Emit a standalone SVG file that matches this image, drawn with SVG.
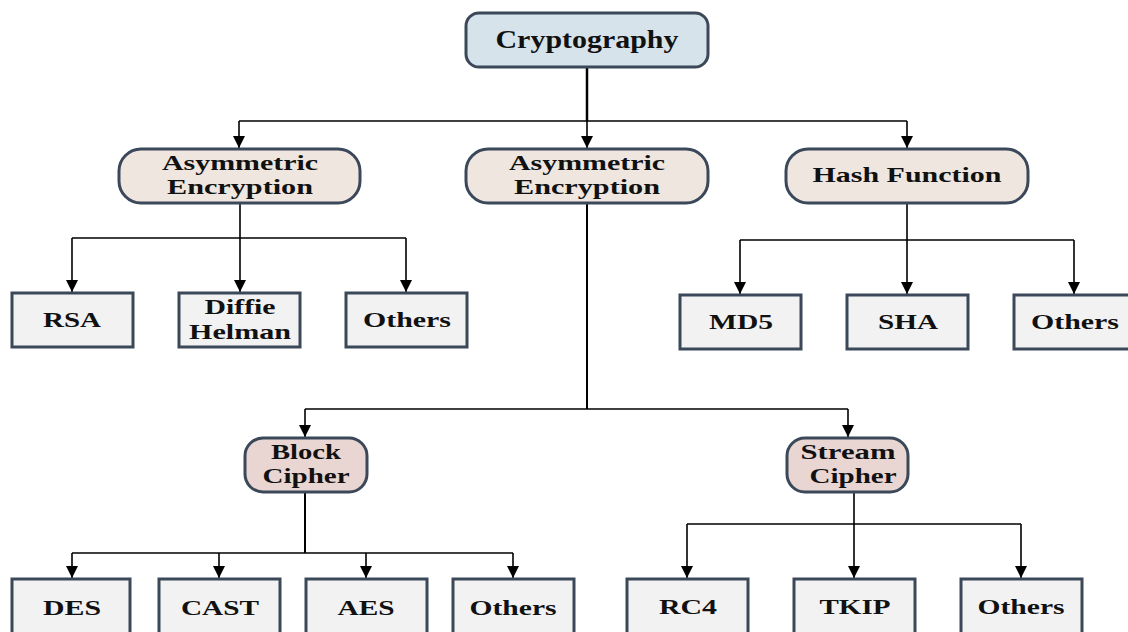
<svg xmlns="http://www.w3.org/2000/svg" width="1128" height="632" viewBox="0 0 1128 632">
<style>
.t{font-family:"Liberation Serif","Times New Roman",serif;font-weight:bold;font-size:22px;fill:#111;text-anchor:middle}
.root{fill:#d7e3ea;stroke:#3b4859;stroke-width:3}
.l2{fill:#eee6df;stroke:#3b4859;stroke-width:3}
.l3{fill:#e9d5d1;stroke:#3b4859;stroke-width:3}
.leaf{fill:#f2f2f2;stroke:#3b4859;stroke-width:3}
.c{fill:none;stroke:#000;stroke-width:1.6}
.a{marker-end:url(#arr)}
</style>
<defs>
<marker id="arr" markerWidth="12" markerHeight="12" refX="10" refY="5" orient="auto" markerUnits="userSpaceOnUse" viewBox="0 0 10 10">
<path d="M0,0 L10,5 L0,10 z" fill="#000"/>
</marker>
</defs>
<rect width="1128" height="632" fill="#fff"/>
<g id="connectors">
<path class="c" d="M587,67 V121" style="stroke-width:2.5"/>
<path class="c" d="M239,121 H907"/>
<path class="c a" d="M239,121 V148"/>
<path class="c a" d="M587,121 V148"/>
<path class="c a" d="M907,121 V148"/>
<path class="c" d="M240,203 V238 M72,238 H406"/>
<path class="c a" d="M72,238 V292"/>
<path class="c a" d="M240,238 V292"/>
<path class="c a" d="M406,238 V292"/>
<path class="c" d="M907,203 V240 M740,240 H1074"/>
<path class="c a" d="M740,240 V294"/>
<path class="c a" d="M907,240 V294"/>
<path class="c a" d="M1074,240 V294"/>
<path class="c" d="M587,203 V409" style="stroke-width:2"/>
<path class="c" d="M305,409 H848"/>
<path class="c a" d="M305,409 V437"/>
<path class="c a" d="M848,409 V437"/>
<path class="c" d="M305,492 V553" style="stroke-width:2"/>
<path class="c" d="M72,553 H513"/>
<path class="c a" d="M72,553 V578"/>
<path class="c a" d="M219,553 V578"/>
<path class="c a" d="M366,553 V578"/>
<path class="c a" d="M513,553 V578"/>
<path class="c" d="M854,492 V524 M687,524 H1021"/>
<path class="c a" d="M687,524 V578"/>
<path class="c a" d="M854,524 V578"/>
<path class="c a" d="M1021,524 V578"/>
</g>
<g id="cryptography">
<rect class="root" x="466" y="13" width="242" height="54" rx="13"/>
<text class="t" x="587" y="48" style="font-size:25px" textLength="183" lengthAdjust="spacingAndGlyphs">Cryptography</text>
</g>
<g id="asym-left">
<rect class="l2" x="119" y="149" width="241" height="54" rx="22"/>
<text class="t" x="240" y="170" textLength="156" lengthAdjust="spacingAndGlyphs">Asymmetric</text>
<text class="t" x="240" y="194" textLength="146" lengthAdjust="spacingAndGlyphs">Encryption</text>
</g>
<g id="asym-mid">
<rect class="l2" x="466" y="149" width="242" height="54" rx="22"/>
<text class="t" x="587" y="170" textLength="156" lengthAdjust="spacingAndGlyphs">Asymmetric</text>
<text class="t" x="587" y="194" textLength="146" lengthAdjust="spacingAndGlyphs">Encryption</text>
</g>
<g id="hash">
<rect class="l2" x="786" y="149" width="242" height="54" rx="22"/>
<text class="t" x="907" y="182" textLength="189" lengthAdjust="spacingAndGlyphs">Hash Function</text>
</g>
<g id="rsa">
<rect class="leaf" x="12" y="293" width="121" height="54"/>
<text class="t" x="72" y="327" textLength="58" lengthAdjust="spacingAndGlyphs">RSA</text>
</g>
<g id="diffie">
<rect class="leaf" x="179" y="293" width="121" height="54"/>
<text class="t" x="240" y="314" textLength="71" lengthAdjust="spacingAndGlyphs">Diffie</text>
<text class="t" x="240" y="339" textLength="102" lengthAdjust="spacingAndGlyphs">Helman</text>
</g>
<g id="others-asym">
<rect class="leaf" x="346" y="293" width="121" height="54"/>
<text class="t" x="407" y="327" textLength="88" lengthAdjust="spacingAndGlyphs">Others</text>
</g>
<g id="md5">
<rect class="leaf" x="680" y="295" width="121" height="54"/>
<text class="t" x="741" y="329" textLength="64" lengthAdjust="spacingAndGlyphs">MD5</text>
</g>
<g id="sha">
<rect class="leaf" x="847" y="295" width="121" height="54"/>
<text class="t" x="908" y="329" textLength="60" lengthAdjust="spacingAndGlyphs">SHA</text>
</g>
<g id="others-hash">
<rect class="leaf" x="1014" y="295" width="121" height="54"/>
<text class="t" x="1075" y="329" textLength="88" lengthAdjust="spacingAndGlyphs">Others</text>
</g>
<g id="block">
<rect class="l3" x="245" y="438" width="122" height="54" rx="18"/>
<text class="t" x="306" y="459" textLength="70" lengthAdjust="spacingAndGlyphs">Block</text>
<text class="t" x="306" y="483" textLength="87" lengthAdjust="spacingAndGlyphs">Cipher</text>
</g>
<g id="stream">
<rect class="l3" x="787" y="438" width="121" height="54" rx="18"/>
<text class="t" x="848" y="459" textLength="95" lengthAdjust="spacingAndGlyphs">Stream</text>
<text class="t" x="853" y="483" textLength="87" lengthAdjust="spacingAndGlyphs">Cipher</text>
</g>
<g id="des">
<rect class="leaf" x="12" y="579" width="118" height="60"/>
<text class="t" x="72" y="615" textLength="58" lengthAdjust="spacingAndGlyphs">DES</text>
</g>
<g id="cast">
<rect class="leaf" x="159" y="579" width="121" height="60"/>
<text class="t" x="220" y="615" textLength="78" lengthAdjust="spacingAndGlyphs">CAST</text>
</g>
<g id="aes">
<rect class="leaf" x="306" y="579" width="121" height="60"/>
<text class="t" x="366" y="615" textLength="57" lengthAdjust="spacingAndGlyphs">AES</text>
</g>
<g id="others-block">
<rect class="leaf" x="453" y="579" width="121" height="60"/>
<text class="t" x="513" y="615" textLength="87" lengthAdjust="spacingAndGlyphs">Others</text>
</g>
<g id="rc4">
<rect class="leaf" x="627" y="579" width="121" height="60"/>
<text class="t" x="688" y="614" textLength="58" lengthAdjust="spacingAndGlyphs">RC4</text>
</g>
<g id="tkip">
<rect class="leaf" x="794" y="579" width="121" height="60"/>
<text class="t" x="855" y="614" textLength="71" lengthAdjust="spacingAndGlyphs">TKIP</text>
</g>
<g id="others-stream">
<rect class="leaf" x="961" y="579" width="121" height="60"/>
<text class="t" x="1021" y="614" textLength="87" lengthAdjust="spacingAndGlyphs">Others</text>
</g>
</svg>
